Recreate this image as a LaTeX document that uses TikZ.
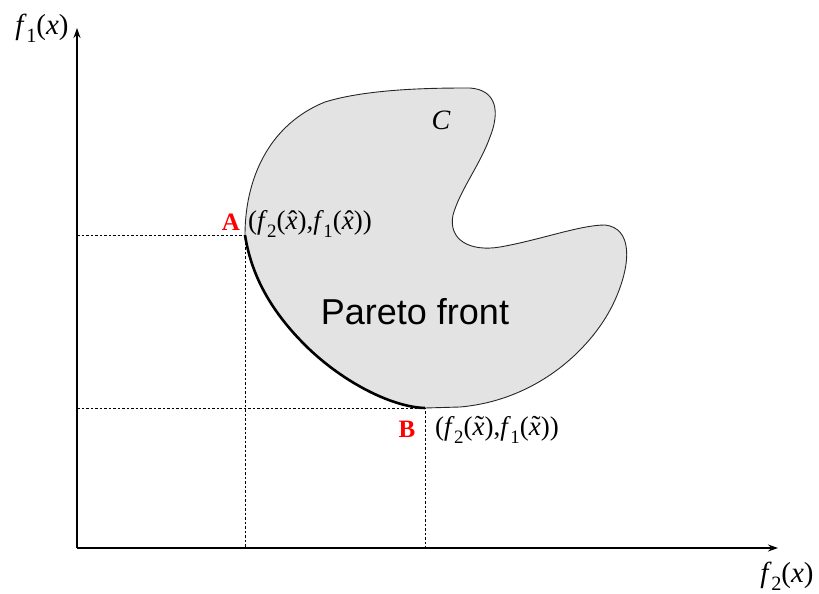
\documentclass[tikz,border=0pt]{standalone}
\usepackage{fontspec}
\setmainfont{Liberation Serif}
\setsansfont{Liberation Sans}
\usetikzlibrary{arrows.meta}
\newcommand\fsub[1]{\textit{f}\kern-0.5pt\raisebox{-0.28em}{\fontsize{0.7em}{0.7em}\selectfont #1}}
\newcommand\xhat{\ooalign{\textit{x}\cr\hfil\kern0.1em\raisebox{0.02em}{\char"02C6}\hfil\cr}}
\newcommand\xtil{\ooalign{\textit{x}\cr\hfil\kern0.08em\raisebox{0.06em}{\char"02DC}\hfil\cr}}
\begin{document}
\begin{tikzpicture}[x=1pt,y=-1pt,
  axis/.style={line width=1.4pt,-{Stealth[length=10pt,width=7pt]}},
  guide/.style={line width=1pt,dash pattern=on 2.5pt off 2pt},
  lbl/.style={inner sep=0pt,font=\fontsize{27}{29}\selectfont},
  pt/.style={inner sep=0pt,text=red,font=\fontsize{25}{28}\selectfont\bfseries}]
\useasboundingbox (0,0) rectangle (819,594);
\coordinate (O) at (77,548);
\coordinate (ytop) at (77,28);
\coordinate (xend) at (778,548);
\coordinate (A) at (245,235);
\coordinate (B) at (425,408);
\coordinate (Ay) at (77,235);
\coordinate (Ax) at (245,548);
\coordinate (By) at (77,408);
\coordinate (Bx) at (425,548);
% region C
\fill[gray!22] (A) .. controls (245,180) and (268,125) .. (325,102)
  .. controls (370,88) and (440,88) .. (470,88)
  .. controls (497,90) and (500,112) .. (490,137)
  .. controls (480,165) and (460,190) .. (453,215)
  .. controls (448,240) and (470,252) .. (500,247)
  .. controls (540,240) and (580,225) .. (605,225)
  .. controls (632,228) and (632,262) .. (615,300)
  .. controls (595,345) and (540,400) .. (460,407)
  -- (B)
  .. controls (390,407) and (340,380) .. (305,345)
  .. controls (275,315) and (252,280) .. (A) -- cycle;
\draw[line width=0.9pt,black!85] (A) .. controls (245,180) and (268,125) .. (325,102)
  .. controls (370,88) and (440,88) .. (470,88)
  .. controls (497,90) and (500,112) .. (490,137)
  .. controls (480,165) and (460,190) .. (453,215)
  .. controls (448,240) and (470,252) .. (500,247)
  .. controls (540,240) and (580,225) .. (605,225)
  .. controls (632,228) and (632,262) .. (615,300)
  .. controls (595,345) and (540,400) .. (460,407)
  -- (B);
\draw[line width=2.6pt] (B) .. controls (390,407) and (340,380) .. (305,345)
  .. controls (275,315) and (252,280) .. (A);
% guides
\draw[guide] (Ay) -- (A) -- (Ax);
\draw[guide] (By) -- (B) -- (Bx);
% axes
\draw[axis] (O) -- (ytop);
\draw[axis] (O) -- (xend);
% labels
\node[lbl,font=\fontsize{29}{31}\selectfont] (f1) at (42,28) {\fsub{1}(\textit{x})};
\node[lbl,font=\fontsize{29}{31}\selectfont] (f2) at (787,576) {\fsub{2}(\textit{x})};
\node[pt] (Alab) at (231,222) {A};
\node[lbl] (Acoord) at (310,224) {(\fsub{2}(\xhat),\fsub{1}(\xhat))};
\node[pt] (Blab) at (407,429) {B};
\node[lbl] (Bcoord) at (497,430) {(\fsub{2}(\xtil),\fsub{1}(\xtil))};
\node[lbl,font=\fontsize{28}{30}\selectfont\itshape] (C) at (441,120) {C};
\node[inner sep=0pt,font=\sffamily\fontsize{36}{38}\selectfont] (pf) at (415,312) {Pareto front};
\end{tikzpicture}
\end{document}
